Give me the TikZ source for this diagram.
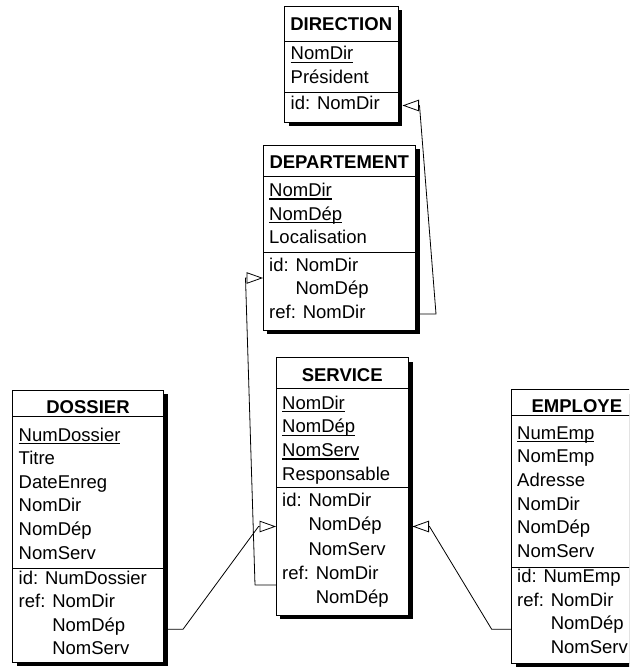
\documentclass[tikz,border=0pt]{standalone}
\usepackage{fontspec}
\setmainfont{Liberation Sans}
\usetikzlibrary{arrows.meta,shadows,calc}

% underlined identifier attribute
\newcommand\keyattr[1]{\setbox0\hbox{#1}\rlap{\rule[-3pt]{\wd0}{1.3pt}}\box0}
% a column of attribute lines, baseline on the first line
\newcommand\attrlist[1]{\begin{tabular}[t]{@{}l@{}}#1\end{tabular}}

\tikzset{
  entity/.style={draw, line width=0.9pt, fill=white, anchor=north west,
    inner sep=0pt, outer sep=0pt,
    general shadow={fill=black, shadow xshift=4pt, shadow yshift=-4pt}},
  sepline/.style={line width=0.9pt},
  title/.style={anchor=base, inner sep=0pt, font=\fontsize{18.5}{23.6}\selectfont\bfseries},
  attrs/.style={anchor=base west, inner sep=0pt, font=\fontsize{18.5}{23.6}\selectfont},
  fk/.style={line width=0.8pt, line join=round,
    -{Triangle[open, length=16.5pt, width=11.5pt]}},
}

\begin{document}
\begin{tikzpicture}[x=1pt,y=-1pt]
\useasboundingbox (0,0) rectangle (629,671);
\clip (0,0) rectangle (629,671);
\fill[white] (0,0) rectangle (629,671);

% DIRECTION
\node[entity, minimum width=113.5pt, minimum height=115.5pt] (dir) at (284.5,6.5) {};
\draw[sepline] (dir.west |- 0,41) -- (dir.east |- 0,41);
\draw[sepline] (dir.west |- 0,92.7) -- (dir.east |- 0,92.7);
\node[title] (dir-t) at (dir.center |- 0,31) {DIRECTION};
\node[attrs] (dir-a) at (290.5,60) {\attrlist{\keyattr{NomDir}\\Président}};
\node[attrs] (dir-i) at (290.5,110) {\attrlist{id: NomDir}};

% DEPARTEMENT
\node[entity, minimum width=152.5pt, minimum height=185pt] (dep) at (263,145) {};
\draw[sepline] (dep.west |- 0,176.7) -- (dep.east |- 0,176.7);
\draw[sepline] (dep.west |- 0,252.3) -- (dep.east |- 0,252.3);
\node[title] (dep-t) at (dep.center |- 0,168.3) {DEPARTEMENT};
\node[attrs] (dep-a) at (269,196.7) {\attrlist{\keyattr{NomDir}\\\keyattr{NomDép}\\Localisation}};
\node[attrs] (dep-i) at (269,271.3) {\attrlist{id: NomDir\\\phantom{id: }NomDép\\ref: NomDir}};

% SERVICE
\node[entity, minimum width=132.5pt, minimum height=257.5pt] (srv) at (276,357.5) {};
\draw[sepline] (srv.west |- 0,388.3) -- (srv.east |- 0,388.3);
\draw[sepline] (srv.west |- 0,487.3) -- (srv.east |- 0,487.3);
\node[title] (srv-t) at (srv.center |- 0,381.7) {SERVICE};
\node[attrs] (srv-a) at (282,409.3) {\attrlist{\keyattr{NomDir}\\\keyattr{NomDép}\\\keyattr{NomServ}\\Responsable}};
\node[attrs, font=\fontsize{18.5}{24.1}\selectfont] (srv-i) at (282,506.8)
  {\attrlist{id: NomDir\\\phantom{id: }NomDép\\\phantom{id: }NomServ\\ref: NomDir\\\phantom{ref: }NomDép}};

% DOSSIER
\node[entity, minimum width=151pt, minimum height=272pt] (dos) at (12.5,390) {};
\draw[sepline] (dos.west |- 0,416.7) -- (dos.east |- 0,416.7);
\draw[sepline] (dos.west |- 0,568.3) -- (dos.east |- 0,568.3);
\node[title] (dos-t) at (dos.center |- 0,413.3) {DOSSIER};
\node[attrs] (dos-a) at (18.5,441) {\attrlist{\keyattr{NumDossier}\\Titre\\DateEnreg\\NomDir\\NomDép\\NomServ}};
\node[attrs] (dos-i) at (18.5,584) {\attrlist{id: NumDossier\\ref: NomDir\\\phantom{ref: }NomDép\\\phantom{ref: }NomServ}};

% EMPLOYE
\node[entity, minimum width=130.3pt, minimum height=273.5pt] (emp) at (511.7,389.5) {};
\draw[sepline] (emp.west |- 0,415) -- (emp.east |- 0,415);
\draw[sepline] (emp.west |- 0,567.3) -- (emp.east |- 0,567.3);
\node[title] (emp-t) at (emp.center |- 0,412.7) {EMPLOYE};
\node[attrs] (emp-a) at (517,439.3) {\attrlist{\keyattr{NumEmp}\\NomEmp\\Adresse\\NomDir\\NomDép\\NomServ}};
\node[attrs] (emp-i) at (517,582.7) {\attrlist{id: NumEmp\\ref: NomDir\\\phantom{ref: }NomDép\\\phantom{ref: }NomServ}};

% foreign keys
\draw[fk] (dep.east |- 0,314) -- (436,314) -- (419.5,105.5) -- ($(dir.east |- 0,105.5)+(4.5,0)$);
\draw[fk] (srv.west |- 0,585) -- (255,585) -- (245.5,278) -- (dep.west |- 0,278);
\draw[fk] (dos.east |- 0,629.3) -- (183,629.3) -- (258.5,526.5) -- (srv.west |- 0,526.5);
\draw[fk] (emp.west |- 0,629.3) -- (491.7,629.3) -- (429.5,526.5) -- ($(srv.east |- 0,526.5)+(4,0)$);
\end{tikzpicture}
\end{document}
